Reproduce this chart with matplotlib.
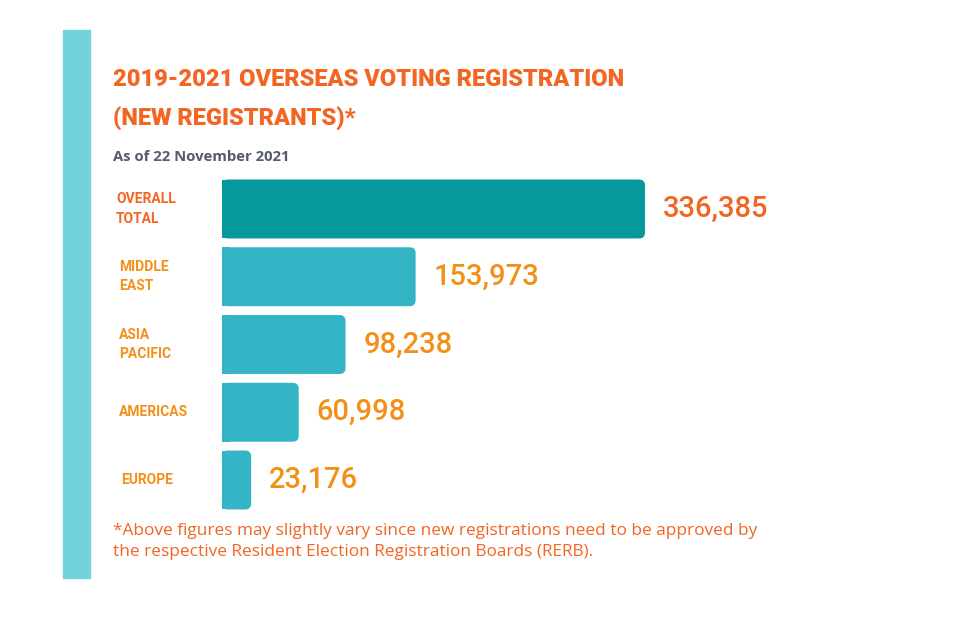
import matplotlib.pyplot as plt
from matplotlib import transforms
from matplotlib.patches import Rectangle, FancyBboxPatch

# data
categories = ["OVERALL\nTOTAL", "MIDDLE\nEAST", "ASIA\nPACIFIC", "AMERICAS", "EUROPE"]
values = [336385, 153973, 98238, 60998, 23176]
value_labels = ["336,385", "153,973", "98,238", "60,998", "23,176"]

bar_colors = ["#05989D"] + ["#33B5C5"] * 4
label_colors = ["#F26522"] + ["#F39019"] * 4
value_colors = ["#F26522"] + ["#F39019"] * 4

W, H = 971, 624
fig = plt.figure(figsize=(W / 100, H / 100), dpi=100)
fig.patch.set_facecolor("white")

# left accent strip
fig.patches.append(Rectangle((63 / W, 1 - 578 / H), 27 / W, 548 / H,
                             transform=fig.transFigure, color="#72D3DC", zorder=0))

# axes placed by pixels: left 222, right 900, top 170, bottom 520
xmax = 336385 * 678 / 423
ax = fig.add_axes([222 / W, 1 - 520 / H, (900 - 222) / W, 350 / H])
ax.set_xlim(0, xmax)
ax.set_ylim(4 + 40 / 67.75, -39 / 67.75)
ax.axis("off")

ypos = list(range(len(values)))
bars = ax.barh(ypos, values, height=0.87, color=bar_colors)

# rounded right corners
px_x = xmax / 678
px_y = (4 + 40 / 67.75 + 39 / 67.75) / 350
for b, c in zip(bars, bar_colors):
    b.set_visible(False)
    x0, y0, w, h = b.get_x(), b.get_y(), b.get_width(), b.get_height()
    ax.add_patch(FancyBboxPatch((x0, y0), w, h,
                                boxstyle="round,pad=0,rounding_size=%f" % (px_x * 6),
                                mutation_aspect=px_y / px_x,
                                color=c, lw=0))
    ax.add_patch(Rectangle((x0, y0), min(w, px_x * 8), h, color=c, lw=0))

for y, v, lab, col in zip(ypos, values, value_labels, value_colors):
    ax.annotate(lab, (v, y), xytext=(13, 0), textcoords="offset points",
                ha="left", va="center", fontsize=21, color=col,
                family=["Roboto", "DejaVu Sans"], fontweight="medium")

tr = transforms.blended_transform_factory(fig.transFigure, ax.transData)
label_x = [116, 119, 119, 119, 121]
for y, cat, col, lx in zip(ypos, categories, label_colors, label_x):
    ax.text(lx / W, y, cat, transform=tr, ha="left", va="center",
            fontsize=10, color=col, fontweight="bold", linespacing=1.5,
            family=["Roboto", "DejaVu Sans"])

# titles
fig.text(113 / W, 1 - 80 / H, "2019-2021 OVERSEAS VOTING REGISTRATION",
         ha="left", va="center", fontsize=17, color="#F26522", fontweight="black",
         family=["Roboto", "DejaVu Sans"])
fig.text(113 / W, 1 - 119 / H, "(NEW REGISTRANTS)*",
         ha="left", va="center", fontsize=17, color="#F26522", fontweight="black",
         family=["Roboto", "DejaVu Sans"])
fig.text(113 / W, 1 - 157 / H, "As of 22 November 2021",
         ha="left", va="center", fontsize=10.7, color="#555A6E", fontweight="bold",
         family=["Open Sans", "DejaVu Sans"])

# footnote
fig.text(113 / W, 1 - 531 / H,
         "*Above figures may slightly vary since new registrations need to be approved by",
         ha="left", va="center", fontsize=12.4, color="#F26522",
         family=["Open Sans", "DejaVu Sans"])
fig.text(113 / W, 1 - 552 / H,
         "the respective Resident Election Registration Boards (RERB).",
         ha="left", va="center", fontsize=12.4, color="#F26522",
         family=["Open Sans", "DejaVu Sans"])

fig.savefig("out.png", dpi=100)
